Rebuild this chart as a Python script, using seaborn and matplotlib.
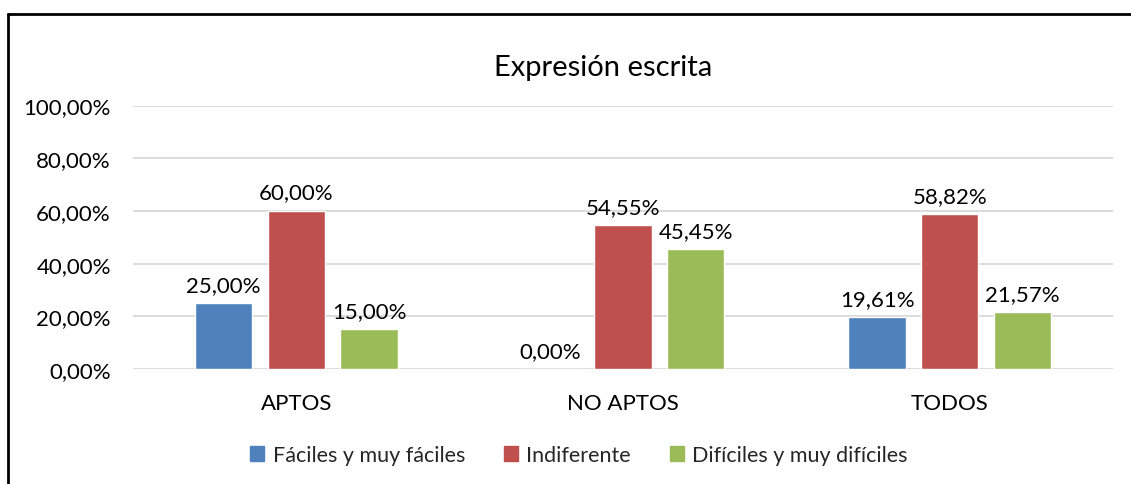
import matplotlib
matplotlib.use("Agg")
import matplotlib.pyplot as plt
import matplotlib.patches as mpatches
import seaborn as sns
import pandas as pd

# Data
categories = ["APTOS", "NO APTOS", "TODOS"]
series = ["Fáciles y muy fáciles", "Indiferente", "Difíciles y muy difíciles"]
faciles = [0.25, 0.0, 0.1961]
indiferente = [0.60, 0.5455, 0.5882]
dificiles = [0.15, 0.4545, 0.2157]
colors = ["#4F81BD", "#C0504D", "#9BBB59"]
y_ticks = [0.0, 0.2, 0.4, 0.6, 0.8, 1.0]


def pct(v):
    return f"{v * 100:.2f}%".replace(".", ",")


df = pd.DataFrame({
    "categoria": categories * 3,
    "serie": [series[0]] * 3 + [series[1]] * 3 + [series[2]] * 3,
    "valor": faciles + indiferente + dificiles,
})

sns.set_style("white")
plt.rcParams["font.family"] = ["Lato", "DejaVu Sans"]

fig = plt.figure(figsize=(11.31, 4.85), dpi=100)
ax = fig.add_axes([0.1176, 0.2371, 0.9841 - 0.1176, 0.7804 - 0.2371])

sns.barplot(data=df, x="categoria", y="valor", hue="serie", hue_order=series,
            palette=colors, width=0.667, gap=0.21, saturation=1,
            legend=False, ax=ax)

for cont in ax.containers:
    ax.bar_label(cont, labels=[pct(b.get_height()) for b in cont],
                 padding=6, fontsize=16, color="#000000")

ax.set_ylim(0, 1.0)
ax.set_xlim(-0.5, 2.5)
ax.set_yticks(y_ticks)
ax.set_yticklabels([pct(v) for v in y_ticks])
ax.set_xlabel("")
ax.set_ylabel("")
ax.yaxis.grid(True, color="#D9D9D9", linewidth=1.3)
ax.set_axisbelow(True)
for s in ax.spines.values():
    s.set_visible(False)
ax.tick_params(axis="y", length=0, pad=16, labelsize=16, labelcolor="#000000")
ax.tick_params(axis="x", length=0, pad=17, labelsize=16, labelcolor="#000000")

fig.text(0.533, 0.86, "Expresión escrita", ha="center", va="center",
         fontsize=21, color="#000000")

handles = [mpatches.Patch(color=c, label=s) for c, s in zip(colors, series)]
fig.legend(handles=handles, loc="center", bbox_to_anchor=(0.512, 0.060),
           ncol=3, frameon=False, fontsize=15.5, handlelength=0.65,
           handleheight=0.65, handletextpad=0.4, columnspacing=1.8)

# chart frame (only top and left edges are visible in the crop)
fig.add_artist(plt.Line2D([8 / 1131, 1.0], [1 - 15 / 485, 1 - 15 / 485],
                          transform=fig.transFigure, color="#000000", lw=2))
fig.add_artist(plt.Line2D([8 / 1131, 8 / 1131], [0.0, 1 - 15 / 485],
                          transform=fig.transFigure, color="#000000", lw=2))

fig.savefig("out.png", dpi=100, facecolor="white")
